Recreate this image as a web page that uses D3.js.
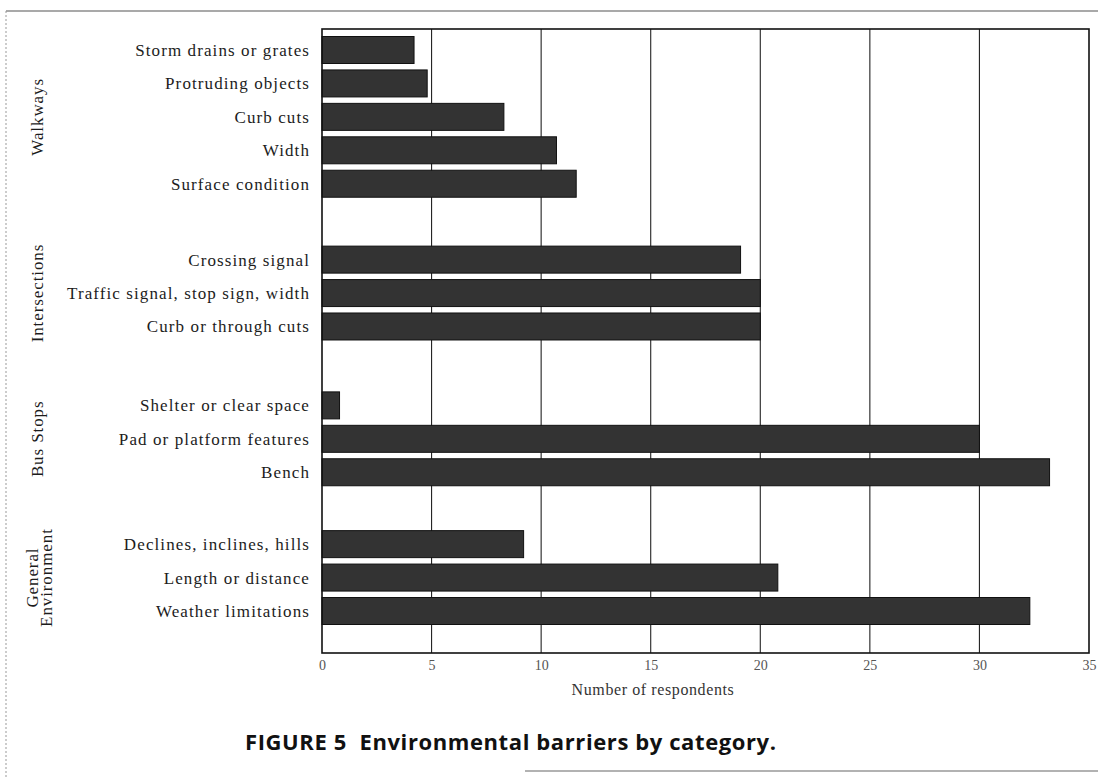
<!DOCTYPE html>
<html>
<head>
<meta charset="utf-8">
<script src="https://cdn.jsdelivr.net/npm/d3@7"></script>
<style>
  html, body { margin: 0; padding: 0; background: #fff; }
  svg { display: block; }
</style>
</head>
<body>
<svg id="chart" width="1098" height="777"></svg>
<script>
// ---- data (top to bottom) ----
const categories = [
  "Storm drains or grates",
  "Protruding objects",
  "Curb cuts",
  "Width",
  "Surface condition",
  "Crossing signal",
  "Traffic signal, stop sign, width",
  "Curb or through cuts",
  "Shelter or clear space",
  "Pad or platform features",
  "Bench",
  "Declines, inclines, hills",
  "Length or distance",
  "Weather limitations"
];
const groupIndex = [0, 0, 0, 0, 0, 1, 1, 1, 2, 2, 2, 3, 3, 3];
const values = [4.2, 4.8, 8.3, 10.7, 11.6, 19.1, 20, 20, 0.8, 30, 33.2, 9.2, 20.8, 32.3];
const groupNames = [["Walkways"], ["Intersections"], ["Bus Stops"], ["General", "Environment"]];
const xTicks = [0, 5, 10, 15, 20, 25, 30, 35];
const xTitle = "Number of respondents";
const caption = "FIGURE 5  Environmental barriers by category.";

// ---- layout ----
const svg = d3.select("#chart");
const plot = { left: 322, right: 1089, top: 29, bottom: 653 };
const groupOffset = [0, 1.27, 2.63, 3.78];
const slot = categories.map((c, i) => i + groupOffset[groupIndex[i]]);

const x = d3.scaleLinear().domain([0, 35]).range([plot.left, plot.right]);
const y = d3.scaleLinear().domain([0, d3.max(slot)]).range([50, 611]);
const barH = 27;

// outer frame (scanned page border)
svg.append("line").attr("x1", 6).attr("x2", 1098).attr("y1", 11).attr("y2", 11)
  .attr("stroke", "#555").attr("stroke-width", 1.2);
svg.append("line").attr("x1", 6).attr("x2", 6).attr("y1", 11).attr("y2", 777)
  .attr("stroke", "#999").attr("stroke-width", 1).attr("stroke-dasharray", "2,2");
svg.append("line").attr("x1", 525).attr("x2", 1098).attr("y1", 771).attr("y2", 771)
  .attr("stroke", "#666").attr("stroke-width", 1.2);

// grid lines
svg.append("g").selectAll("line").data(xTicks.slice(1, -1)).join("line")
  .attr("x1", d => x(d)).attr("x2", d => x(d))
  .attr("y1", plot.top).attr("y2", plot.bottom)
  .attr("stroke", "#222").attr("stroke-width", 1.1);

// bars
svg.append("g").selectAll("rect").data(values).join("rect")
  .attr("x", x(0))
  .attr("y", (d, i) => y(slot[i]) - barH / 2)
  .attr("width", d => x(d) - x(0))
  .attr("height", barH)
  .attr("fill", "#333")
  .attr("stroke", "#111")
  .attr("stroke-width", 1);

// plot border
svg.append("rect")
  .attr("x", plot.left).attr("y", plot.top)
  .attr("width", plot.right - plot.left).attr("height", plot.bottom - plot.top)
  .attr("fill", "none").attr("stroke", "#111").attr("stroke-width", 1.6);

// x axis tick labels
const xAxis = d3.axisBottom(x).tickValues(xTicks).tickSize(0).tickPadding(7);
const gx = svg.append("g").attr("transform", `translate(0,${plot.bottom})`).call(xAxis);
gx.select(".domain").remove();
gx.selectAll("text")
  .attr("font-family", "'Liberation Serif', 'DejaVu Serif', serif")
  .attr("font-size", 14).attr("fill", "#555");

// x title
svg.append("text")
  .attr("x", 653).attr("y", 695)
  .attr("text-anchor", "middle")
  .attr("font-family", "'Liberation Serif', serif")
  .attr("font-size", 16).attr("letter-spacing", 0.6).attr("fill", "#333")
  .text(xTitle);

// category labels
svg.append("g").selectAll("text").data(categories).join("text")
  .attr("x", 310)
  .attr("y", (d, i) => y(slot[i]))
  .attr("dy", "0.35em")
  .attr("text-anchor", "end")
  .attr("font-family", "'Liberation Serif', serif")
  .attr("font-size", 17).attr("letter-spacing", 1.1).attr("fill", "#1c1c1c")
  .text(d => d);

// group labels (rotated)
const groupCenters = groupNames.map((g, gi) => {
  const ys = slot.filter((s, i) => groupIndex[i] === gi).map(s => y(s));
  return (d3.min(ys) + d3.max(ys)) / 2;
});
const gGroups = svg.append("g");
groupNames.forEach((lines, gi) => {
  const n = lines.length;
  const t = gGroups.append("text")
    .attr("transform", `translate(${n > 1 ? 39 : 37},${groupCenters[gi]}) rotate(-90)`)
    .attr("text-anchor", "middle")
    .attr("font-family", "'Liberation Serif', serif")
    .attr("font-size", 17).attr("letter-spacing", 0.9).attr("fill", "#1c1c1c");
  lines.forEach((l, li) => {
    t.append("tspan").attr("x", 0)
      .attr("y", (li - (n - 1) / 2) * 14)
      .attr("dy", "0.35em")
      .text(l);
  });
});

// caption
svg.append("text")
  .attr("x", 245).attr("y", 750)
  .attr("font-family", "'Open Sans', 'Noto Sans', sans-serif")
  .attr("font-weight", "bold")
  .attr("font-size", 22).attr("letter-spacing", 0.6).attr("fill", "#111")
  .style("white-space", "pre")
  .text(caption);
</script>
</body>
</html>
